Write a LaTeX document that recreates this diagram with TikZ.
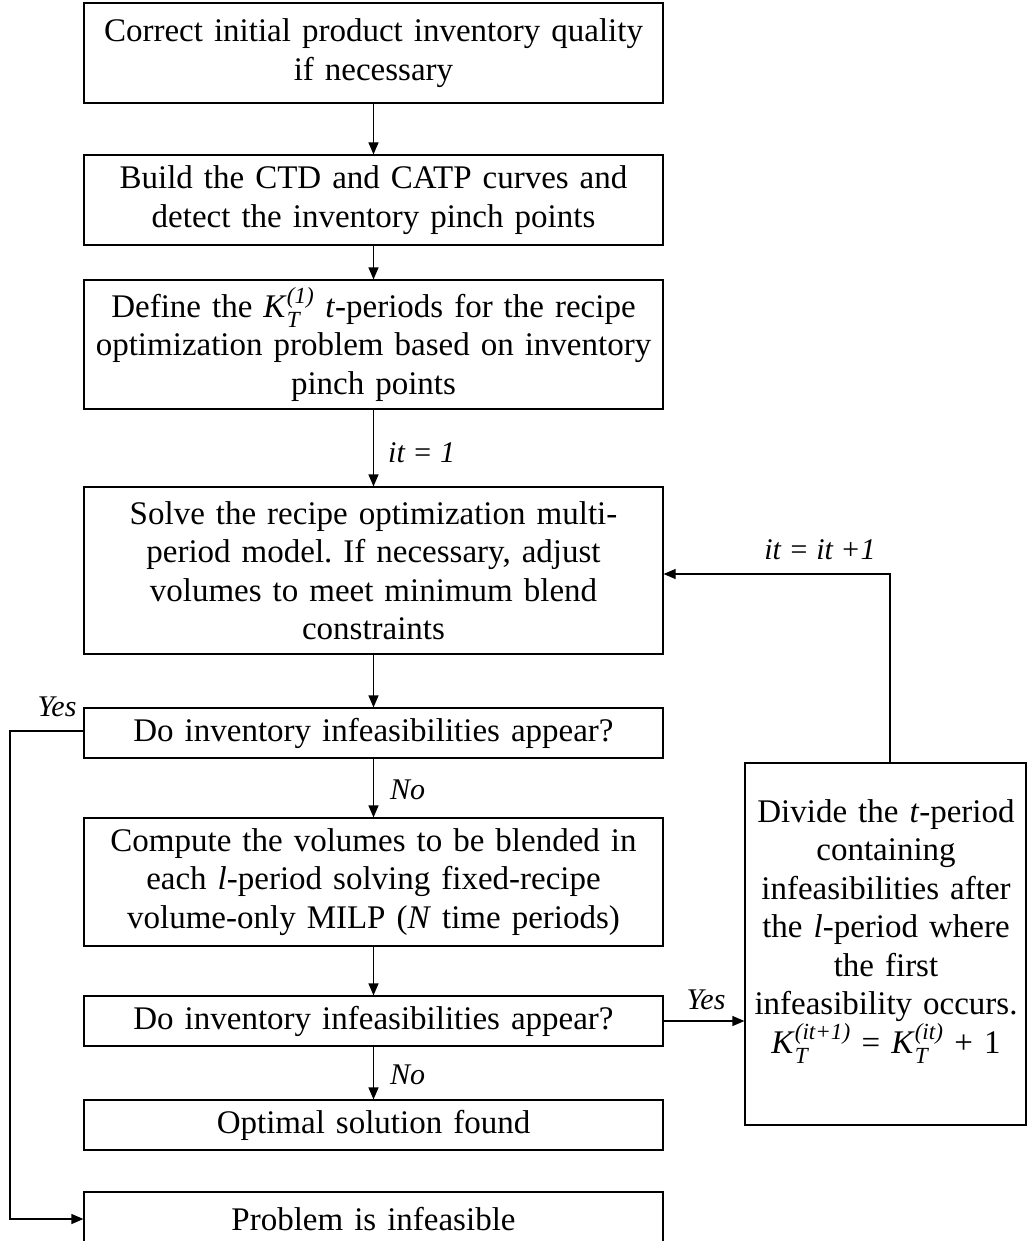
\documentclass[tikz,border=0pt]{standalone}
\usepackage{amsmath}
\usepackage{fontspec}
\setmainfont{Liberation Serif}
\usetikzlibrary{arrows.meta}
\frenchspacing
% K_T with stacked italic sub- and superscript
\newcommand{\KT}[1]{\textit{K}$_{\textit{T}}^{\textit{#1}}$}
\begin{document}
\begin{tikzpicture}[x=1pt,y=-1pt,
  every node/.style={font=\fontsize{33}{38.5}\selectfont},
  stepbox/.style={draw, line width=1.2pt, minimum width=579pt, text width=570pt,
    align=center, inner sep=0pt},
  flow/.style={draw, line width=1.2pt, -{Triangle[length=12pt,width=10pt]}},
  lbl/.style={font=\fontsize{30}{36}\selectfont\itshape, inner sep=0pt}]
\useasboundingbox (0,0) rectangle (1027,1241);

% main column
\node[stepbox, minimum height=100pt] (init) at (373.5,53)
  {Correct initial product inventory quality\\if necessary};
\node[stepbox, minimum height=90pt] (curves) at (373.5,200)
  {Build the CTD and CATP curves and\\detect the inventory pinch points};
\node[stepbox, minimum height=129pt] (define) at (373.5,344.5)
  {Define the \KT{(1)} \textit{t}-periods for the recipe\\optimization problem based on inventory\\pinch points};
\node[stepbox, minimum height=167pt] (solve) at (373.5,570.5)
  {Solve the recipe optimization multi-\\period model. If necessary, adjust\\volumes to meet minimum blend\\constraints};
\node[stepbox, minimum height=50pt] (check1) at (373.5,733)
  {Do inventory infeasibilities appear?};
\node[stepbox, minimum height=128pt] (compute) at (373.5,882)
  {Compute the volumes to be blended in\\each \textit{l}-period solving fixed-recipe\\volume-only MILP (\textit{N} time periods)};
\node[stepbox, minimum height=50pt] (check2) at (373.5,1021)
  {Do inventory infeasibilities appear?};
\node[stepbox, minimum height=50pt] (optimal) at (373.5,1125)
  {Optimal solution found};
\node[stepbox, minimum height=54pt] (infeasible) at (373.5,1219)
  {Problem is infeasible};

% side box for splitting a t-period
\node[draw, line width=1.2pt, minimum width=281pt, minimum height=362pt, inner sep=0pt]
  (divide) at (885.5,944) {};
\node[text width=282pt, align=center, anchor=north, inner sep=0pt] (dividetext) at (886,799)
  {Divide the \textit{t}-period\\containing\\infeasibilities after\\the \textit{l}-period where\\the first\\infeasibility occurs.\\\KT{(it+1)} = \KT{(it)} + 1};

% vertical flow
\draw[flow] (init) -- (curves);
\draw[flow] (curves) -- (define);
\draw[flow] (define) -- (solve);
\draw[flow] (solve) -- (check1);
\draw[flow] (check1) -- (compute);
\draw[flow] (compute) -- (check2);
\draw[flow] (check2) -- (optimal);

% branch labels
\node[lbl, anchor=west] (itone) at (388,453) {it = 1};
\node[lbl, anchor=west] (noone) at (390,790) {No};
\node[lbl, anchor=west] (notwo) at (390,1075) {No};
\node[lbl] (yesright) at (706,1000) {Yes};
\node[lbl] (yesleft) at (57,707) {Yes};
\node[lbl] (itinc) at (820,550) {it = it +1};

% infeasible second check goes to the splitting step
\draw[flow] (check2.east) -- (check2.east -| divide.west);

% iteration loop back to the recipe model
\coordinate (loop) at (890,574);
\draw[flow] (loop |- divide.north) -- (loop) -- (loop -| solve.east);

% infeasible first check ends the run
\coordinate (leftrail) at (10,731);
\draw[flow] (check1.west |- leftrail) -- (leftrail) -- (leftrail |- infeasible.west) -- (infeasible.west);
\end{tikzpicture}
\end{document}
